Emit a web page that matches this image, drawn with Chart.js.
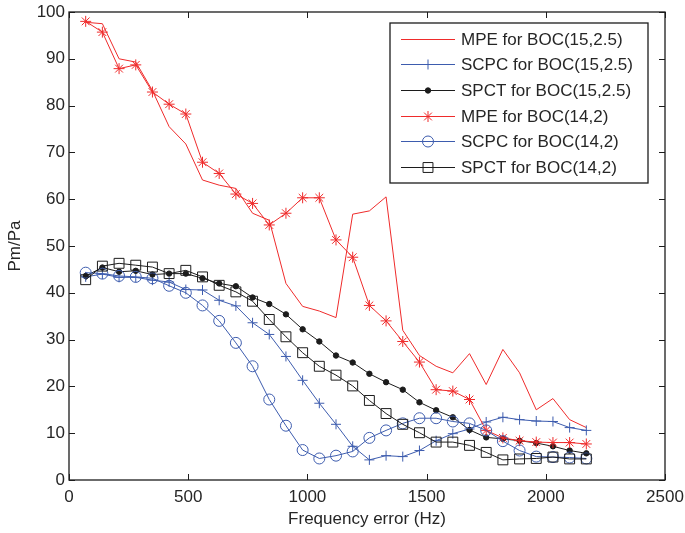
<!DOCTYPE html>
<html lang="en">
<head>
    <meta charset="UTF-8">
    <title>Pm/Pa vs Frequency error</title>
    <script src="https://cdn.jsdelivr.net/npm/chart.js"></script>
    <style>
        body { margin: 0; background: #fff; }
    </style>
</head>
<body>
    <canvas id="pmChart" width="685" height="533"></canvas>

    <script>
        // frequency error (Hz), 70 Hz steps
        const freqs = [70, 140, 210, 280, 350, 420, 490, 560, 630, 700, 770, 840, 910, 980, 1050,
                       1120, 1190, 1260, 1330, 1400, 1470, 1540, 1610, 1680, 1750, 1820, 1890, 1960, 2030, 2100, 2170];

        const mpe15  = [97.8, 97.5, 90.0, 89.3, 83.2, 75.5, 71.8, 64.1, 63.0, 62.3, 57.0, 55.5, 42.0, 37.1, 36.1,
                        34.7, 56.8, 57.5, 60.5, 32.0, 26.6, 24.3, 22.9, 27.0, 20.4, 27.9, 22.9, 15.0, 17.4, 12.9, 11.2];
        const scpc15 = [43.4, 44.0, 43.3, 43.3, 42.7, 42.3, 40.7, 40.6, 38.4, 37.2, 33.6, 31.1, 26.4, 21.3, 16.4,
                        11.9, 7.2, 4.3, 5.2, 5.0, 6.3, 8.4, 9.9, 10.9, 12.4, 13.4, 12.9, 12.6, 12.5, 11.2, 10.6];
        const spct15 = [43.6, 45.4, 44.5, 44.7, 43.9, 44.1, 44.1, 43.1, 42.0, 41.4, 39.0, 37.6, 35.4, 32.2, 29.6,
                        26.6, 25.1, 22.7, 20.9, 19.3, 16.6, 14.9, 13.4, 10.7, 9.1, 8.8, 8.4, 7.9, 7.2, 6.3, 5.7];
        const mpe14  = [98.0, 95.7, 87.9, 88.7, 82.9, 80.3, 78.2, 67.9, 65.5, 61.1, 59.1, 54.5, 57.0, 60.3, 60.3,
                        51.3, 47.6, 37.3, 34.0, 29.6, 25.2, 19.3, 19.0, 17.2, 10.6, 9.0, 8.4, 8.1, 8.0, 8.0, 7.7];
        const scpc14 = [44.3, 44.1, 43.6, 43.4, 43.1, 41.5, 40.0, 37.3, 34.0, 29.3, 24.3, 17.2, 11.6, 6.4, 4.6,
                        5.2, 6.1, 9.0, 10.6, 12.1, 13.2, 13.2, 12.5, 12.1, 10.6, 8.3, 6.3, 5.0, 4.9, 4.8, 4.6];
        const spct14 = [42.8, 45.7, 46.3, 45.9, 45.5, 44.1, 44.8, 43.4, 41.6, 40.2, 38.2, 34.3, 30.6, 27.2, 24.3,
                        22.4, 20.1, 17.0, 14.2, 11.9, 10.1, 8.1, 8.1, 7.4, 5.9, 4.3, 4.5, 4.6, 4.9, 4.5, 4.5];

        const seriesNames = ['MPE for BOC(15,2.5)', 'SCPC for BOC(15,2.5)', 'SPCT for BOC(15,2.5)',
                             'MPE for BOC(14,2)', 'SCPC for BOC(14,2)', 'SPCT for BOC(14,2)'];
        const xTicks = [0, 500, 1000, 1500, 2000, 2500];
        const yTicks = [0, 10, 20, 30, 40, 50, 60, 70, 80, 90, 100];

        const RED = '#ef2b2b', BLUE = '#3d5cae', BLACK = '#1c1c1c', TEXT = '#262626';
        const FONT = '"Liberation Sans", Arial, sans-serif';

        function pts(ys) {
            return ys.map((y, i) => ({ x: freqs[i], y: y }));
        }

        // marker style per series: [color, pointStyle, radius, filled]
        const styles = [
            [RED, 'line', 0, false],
            [BLUE, 'cross', 5, false],
            [BLACK, 'circle', 2.7, true],
            [RED, 'star', 5.5, false],
            [BLUE, 'circle', 5.5, false],
            [BLACK, 'rect', 7, false]
        ];

        const allData = [mpe15, scpc15, spct15, mpe14, scpc14, spct14];

        const datasets = allData.map((d, i) => {
            const [color, ps, r, filled] = styles[i];
            return {
                label: seriesNames[i],
                data: pts(d),
                borderColor: color,
                borderWidth: 1,
                backgroundColor: filled ? color : 'rgba(0,0,0,0)',
                pointStyle: ps === 'line' ? 'circle' : ps,
                pointRadius: r,
                pointBorderWidth: 1,
                pointBorderColor: color,
                pointBackgroundColor: filled ? color : 'rgba(0,0,0,0)',
                tension: 0,
                fill: false,
                order: 6 - i
            };
        });

        // box around the plot with inward ticks, matlab style
        const framePlugin = {
            id: 'frame',
            afterDatasetsDraw(chart) {
                const { ctx, chartArea: a, scales } = chart;
                ctx.save();
                ctx.strokeStyle = BLACK;
                ctx.lineWidth = 1.3;
                ctx.strokeRect(a.left, a.top, a.right - a.left, a.bottom - a.top);
                ctx.lineWidth = 1;
                ctx.beginPath();
                xTicks.forEach(v => {
                    const x = Math.round(scales.x.getPixelForValue(v)) + 0.5;
                    ctx.moveTo(x, a.bottom); ctx.lineTo(x, a.bottom - 6);
                    ctx.moveTo(x, a.top); ctx.lineTo(x, a.top + 6);
                });
                yTicks.forEach(v => {
                    const y = Math.round(scales.y.getPixelForValue(v)) + 0.5;
                    ctx.moveTo(a.left, y); ctx.lineTo(a.left + 6, y);
                    ctx.moveTo(a.right, y); ctx.lineTo(a.right - 6, y);
                });
                ctx.stroke();
                ctx.restore();
            }
        };

        function drawMarker(ctx, style, x, y) {
            const [color, ps, r, filled] = style;
            if (ps === 'line') return;
            ctx.save();
            ctx.strokeStyle = color;
            ctx.fillStyle = color;
            ctx.lineWidth = 1;
            ctx.beginPath();
            if (ps === 'cross' || ps === 'star') {
                ctx.moveTo(x - r, y); ctx.lineTo(x + r, y);
                ctx.moveTo(x, y - r); ctx.lineTo(x, y + r);
                if (ps === 'star') {
                    const d = r * Math.SQRT1_2;
                    ctx.moveTo(x - d, y - d); ctx.lineTo(x + d, y + d);
                    ctx.moveTo(x - d, y + d); ctx.lineTo(x + d, y - d);
                }
                ctx.stroke();
            } else if (ps === 'circle') {
                ctx.arc(x, y, r, 0, Math.PI * 2);
                if (filled) ctx.fill();
                ctx.stroke();
            } else if (ps === 'rect') {
                const s = r * Math.SQRT1_2;
                ctx.rect(x - s, y - s, 2 * s, 2 * s);
                ctx.stroke();
            }
            ctx.restore();
        }

        const legendPlugin = {
            id: 'boxLegend',
            afterDraw(chart) {
                const ctx = chart.ctx;
                const box = { left: 390, top: 23, right: 648, bottom: 183 };
                ctx.save();
                ctx.fillStyle = '#fff';
                ctx.fillRect(box.left, box.top, box.right - box.left, box.bottom - box.top);
                ctx.strokeStyle = BLACK;
                ctx.lineWidth = 1.3;
                ctx.strokeRect(box.left, box.top, box.right - box.left, box.bottom - box.top);
                ctx.font = '17px ' + FONT;
                ctx.textBaseline = 'middle';
                seriesNames.forEach((name, i) => {
                    const y = Math.round(38.5 + i * 25.7) + 0.5;
                    ctx.strokeStyle = styles[i][0];
                    ctx.lineWidth = 1;
                    ctx.beginPath();
                    ctx.moveTo(401, y); ctx.lineTo(455, y);
                    ctx.stroke();
                    drawMarker(ctx, styles[i], 428, y);
                    ctx.fillStyle = TEXT;
                    ctx.fillText(name, 461, y + 1);
                });
                ctx.restore();
            }
        };

        const ctx = document.getElementById('pmChart').getContext('2d');
        new Chart(ctx, {
            type: 'line',
            data: { datasets: datasets },
            plugins: [framePlugin, legendPlugin],
            options: {
                responsive: false,
                animation: false,
                devicePixelRatio: 1,
                layout: { padding: { top: 12, right: 20, left: 0, bottom: 0 } },
                plugins: {
                    legend: { display: false },
                    tooltip: { enabled: false }
                },
                scales: {
                    x: {
                        type: 'linear',
                        min: 0,
                        max: 2500,
                        afterFit: s => { s.height = 53; s.paddingLeft = 0; s.paddingRight = 0; },
                        afterBuildTicks: s => { s.ticks = xTicks.map(v => ({ value: v })); },
                        grid: { display: false, drawTicks: false },
                        border: { display: false },
                        ticks: {
                            padding: 7,
                            color: TEXT,
                            maxRotation: 0,
                            callback: v => String(v),
                            font: { family: FONT, size: 17 }
                        },
                        title: {
                            display: true,
                            text: 'Frequency error (Hz)',
                            color: TEXT,
                            padding: { top: 0, bottom: 3 },
                            font: { family: FONT, size: 17 }
                        }
                    },
                    y: {
                        min: 0,
                        max: 100,
                        afterFit: s => { s.width = 69; s.paddingTop = 0; s.paddingBottom = 0; },
                        afterBuildTicks: s => { s.ticks = yTicks.map(v => ({ value: v })); },
                        grid: { display: false, drawTicks: false },
                        border: { display: false },
                        ticks: {
                            padding: 4,
                            color: TEXT,
                            callback: v => String(v),
                            font: { family: FONT, size: 17 }
                        },
                        title: {
                            display: true,
                            text: 'Pm/Pa',
                            color: TEXT,
                            padding: { top: 5, bottom: 0 },
                            font: { family: FONT, size: 17 }
                        }
                    }
                }
            }
        });
    </script>
</body>
</html>
